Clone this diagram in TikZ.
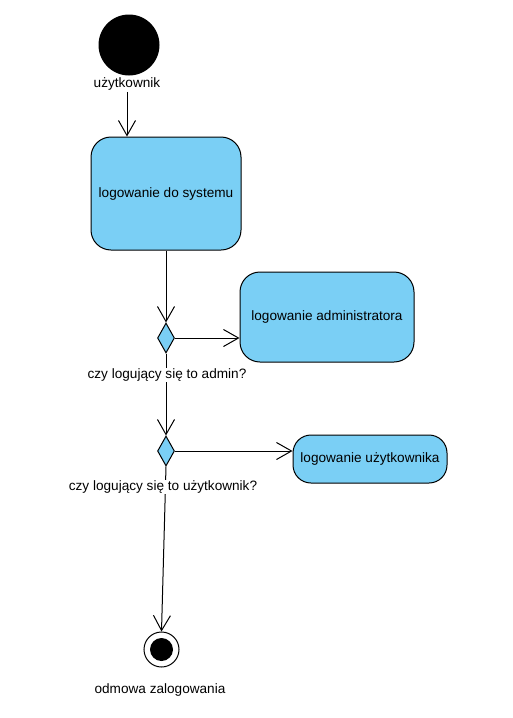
\documentclass[tikz,border=0pt]{standalone}
\usepackage{fontspec}
\setmainfont{Liberation Sans}
\usetikzlibrary{shapes.geometric,arrows.meta}
\definecolor{actfill}{RGB}{122,207,245}
\begin{document}
\begin{tikzpicture}[x=1pt,y=-1pt,
  every node/.style={font=\fontsize{13.6}{15}\selectfont},
  act/.style={draw=black,line width=1pt,fill=actfill,rounded corners=20pt,inner sep=0pt},
  decis/.style={draw=black,line width=1pt,fill=actfill,diamond,inner sep=0pt,minimum width=17pt,minimum height=30pt},
  flow/.style={draw=black,line width=1pt,-{Straight Barb[length=15pt,width=17pt,line width=1pt]}},
  lbl/.style={fill=white,inner sep=1pt}]
\useasboundingbox (0,0) rectangle (512,718);
\node[circle,fill=black,minimum size=61pt,inner sep=0pt] (start) at (129,45) {};
\node (startlbl) at (127,84) {użytkownik};
\node[act,minimum width=150pt,minimum height=113pt] (sys) at (166,193.5) {logowanie do systemu};
\node[decis] (d1) at (166,338) {};
\node[act,minimum width=174pt,minimum height=90pt] (admin) at (327,317) {logowanie administratora};
\node[decis] (d2) at (166,451) {};
\node[act,rounded corners=18pt,minimum width=154pt,minimum height=48pt] (user) at (370,459) {logowanie użytkownika};
\node[circle,draw=black,line width=1pt,fill=white,minimum size=35pt,inner sep=0pt] (final) at (161.5,649.5) {};
\node[circle,fill=black,minimum size=23pt,inner sep=0pt] (finalin) at (final.center) {};
\node (finallbl) at (160,690) {odmowa zalogowania};
\coordinate (startout) at ([yshift=2pt]startlbl.south);
\draw[flow] (startout) -- (startout |- sys.north);
\draw[flow] (sys.south -| d1.north) -- (d1.north);
\draw[flow] (d1.east) -- (d1.east -| admin.west);
\draw[flow] (d1.south) -- (d2.north);
\draw[flow] (d2.east) -- (d2.east -| user.west);
\draw[flow] (d2.south) -- (final.north);
\node[lbl] (q1) at (167,375) {czy logujący się to admin?};
\node[lbl] (q2) at (163,487) {czy logujący się to użytkownik?};
\end{tikzpicture}
\end{document}
